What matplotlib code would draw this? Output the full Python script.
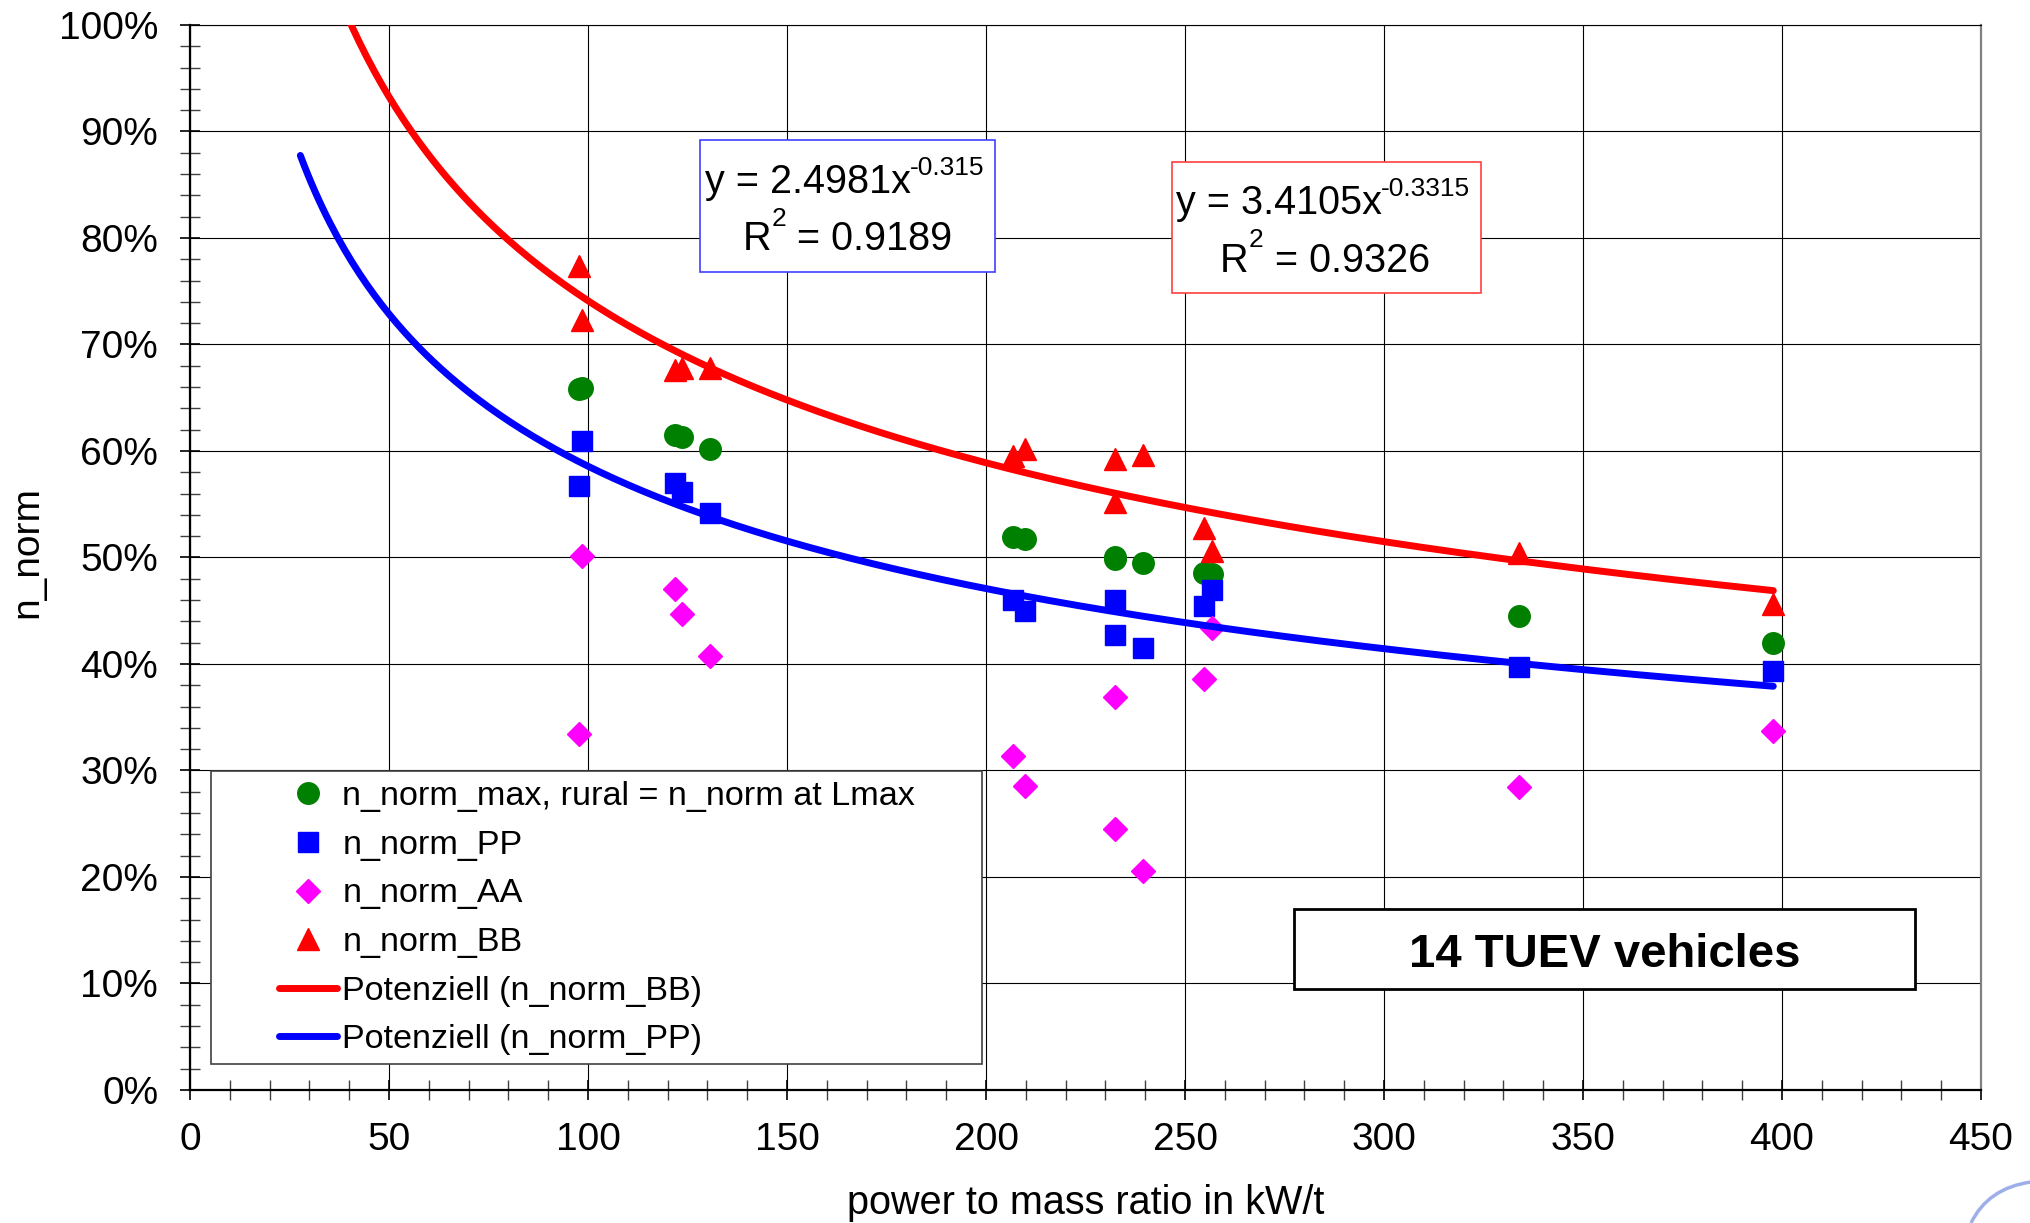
import numpy as np
import matplotlib.pyplot as plt
from matplotlib.patches import Rectangle, PathPatch
from matplotlib.path import Path
from matplotlib.ticker import MultipleLocator, FuncFormatter

plt.rcParams['font.family'] = ['Liberation Sans', 'DejaVu Sans']

# power to mass ratio of the 14 vehicles in kW/t
pmr = [97.7, 98.4, 121.9, 123.6, 130.6, 206.8, 209.8, 232.3, 232.5, 239.5,
       254.8, 256.8, 334.0, 397.8]

# normalised engine speeds in %
n_norm_max = [65.8, 65.9, 61.5, 61.3, 60.2, 51.9, 51.7, 50.0, 49.9, 49.5,
              48.5, 48.4, 44.5, 42.0]
n_norm_pp = [56.7, 60.9, 57.0, 56.1, 54.2, 46.0, 45.0, 46.0, 42.7, 41.5,
             45.4, 46.9, 39.7, 39.3]
n_norm_aa = [33.4, 50.1, 47.0, 44.7, 40.7, 31.4, 28.5, 36.9, 24.5, 20.6,
             38.6, 43.4, 28.4, 33.7]
n_norm_bb = [77.4, 72.3, 67.6, 67.8, 67.8, 59.5, 60.2, 59.2, 55.2, 59.6,
             52.8, 50.6, 50.4, 45.6]

# power trend lines y = a * x^b  (a, b, R^2)
fit_bb = (3.4105, -0.3315, 0.9326)
fit_pp = (2.4981, -0.315, 0.9189)
fit_from, fit_to = 27.7, 397.8

labels = ['n_norm_max, rural = n_norm at Lmax', 'n_norm_PP', 'n_norm_AA',
          'n_norm_BB', 'Potenziell (n_norm_BB)', 'Potenziell (n_norm_PP)']

fig = plt.figure(figsize=(20.31, 12.23), dpi=100)
ax = fig.add_axes([0.0936, 0.1088, 0.8818, 0.8708])

ax.plot(pmr, n_norm_max, 'o', color='#008000', ms=15.5, zorder=3, label=labels[0])
ax.plot(pmr, n_norm_pp, 's', color='#0000ff', ms=15, zorder=3, label=labels[1])
ax.plot(pmr, n_norm_aa, 'D', color='#ff00ff', ms=12, zorder=3, label=labels[2])
ax.plot(pmr, n_norm_bb, '^', color='#ff0000', ms=16, zorder=3, label=labels[3])

xs = np.linspace(fit_from, fit_to, 400)
ax.plot(xs, 100 * fit_bb[0] * xs ** fit_bb[1], color='#ff0000', lw=5,
        solid_capstyle='round', zorder=4, label=labels[4])
ax.plot(xs, 100 * fit_pp[0] * xs ** fit_pp[1], color='#0000ff', lw=5,
        solid_capstyle='round', zorder=4, label=labels[5])

ax.set_xlim(0, 450)
ax.set_ylim(0, 100)
ax.xaxis.set_major_locator(MultipleLocator(50))
ax.xaxis.set_minor_locator(MultipleLocator(10))
ax.yaxis.set_major_locator(MultipleLocator(10))
ax.yaxis.set_minor_locator(MultipleLocator(2))
ax.yaxis.set_major_formatter(FuncFormatter(lambda v, p: '%d%%' % round(v)))

ax.grid(True, which='major', color='black', lw=0.8)
ax.set_axisbelow(True)
ax.tick_params(which='major', direction='inout', length=15, width=1.2,
               labelsize=28, pad=15.5)
ax.tick_params(which='minor', direction='inout', length=14, width=1,
               color='#404040')

for s in ['left', 'bottom']:
    ax.spines[s].set_linewidth(1.6)
    ax.spines[s].set_color('black')
ax.spines['top'].set_linewidth(0.8)
ax.spines['right'].set_color('#808080')
ax.spines['right'].set_linewidth(1.6)

ax.set_xlabel('power to mass ratio in kW/t', fontsize=28.5, va='top')
ax.xaxis.set_label_coords(0.5, -0.088)
ax.set_ylabel('n_norm', fontsize=28)
ax.yaxis.set_label_coords(-0.081, 0.505)

# legend: white framed panel with the entries on top
ax.add_patch(Rectangle((0.0117, 0.0244), 0.4305, 0.2751, transform=ax.transAxes,
                       facecolor='white', edgecolor='#404040', lw=1.2, zorder=5))
leg = ax.legend(loc='upper left', bbox_to_anchor=(0.0497, 0.2898), frameon=False,
                fontsize=24.6, numpoints=1, borderpad=0, borderaxespad=0,
                handlelength=1.7, handletextpad=0.15, labelspacing=0.515)
leg.set_zorder(6)


def equation_box(x0, y0, x1, y1, edge, eq_xy, r2_xy, fit):
    ax.add_patch(Rectangle((x0, y0), x1 - x0, y1 - y0, transform=ax.transAxes,
                           facecolor='white', edgecolor=edge, lw=1.2, zorder=5))
    t = ax.text(eq_xy[0], eq_xy[1], 'y = %.4fx' % fit[0], transform=ax.transAxes,
                fontsize=28.5, ha='left', va='baseline', zorder=6)
    ax.annotate('%g' % fit[1], xy=(1, 1), xycoords=t, xytext=(-0.5, 5),
                textcoords='offset points', fontsize=19, ha='left', va='top',
                zorder=6)
    r = ax.text(r2_xy[0], r2_xy[1], 'R', transform=ax.transAxes,
                fontsize=28.5, ha='left', va='baseline', zorder=6)
    sup = ax.annotate('2', xy=(1, 1), xycoords=r, xytext=(0, 9.5),
                      textcoords='offset points', fontsize=19, ha='left',
                      va='top', zorder=6)
    ax.annotate(' = %.4f' % fit[2], xy=(1, 0), xycoords=(sup, r),
                fontsize=28.5, ha='left', va='bottom', zorder=6)


equation_box(0.2848, 0.768, 0.4495, 0.892, '#4040ff', (0.2875, 0.842),
             (0.3085, 0.7887), fit_pp)
equation_box(0.548, 0.748, 0.721, 0.871, '#ff4040', (0.5505, 0.8225),
             (0.5752, 0.7684), fit_bb)

# sample size note
ax.add_patch(Rectangle((0.6164, 0.0948), 0.3468, 0.0752, transform=ax.transAxes,
                       facecolor='white', edgecolor='black', lw=2, zorder=5))
ax.text(0.7898, 0.1159, '14 TUEV vehicles', transform=ax.transAxes,
        fontsize=34, fontweight='bold', ha='center', va='baseline', zorder=6)

# small swoosh in the lower right corner
W, H = 2031.0, 1223.0
swoosh = Path([(1971 / W, 1 - 1223 / H), (1988 / W, 1 - 1188 / H),
               (2031 / W, 1 - 1182 / H)],
              [Path.MOVETO, Path.CURVE3, Path.CURVE3])
fig.add_artist(PathPatch(swoosh, transform=fig.transFigure, facecolor='none',
                         edgecolor='#7d93e2', lw=2.5, alpha=0.75))

fig.savefig('out.png', dpi=100)
